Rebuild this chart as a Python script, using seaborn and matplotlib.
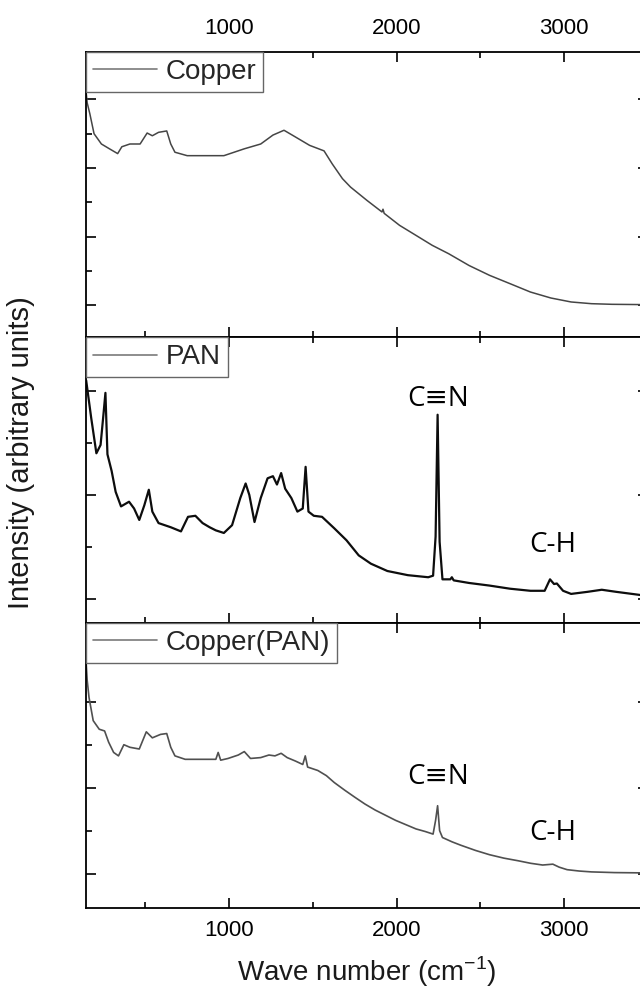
import matplotlib
matplotlib.use("Agg")
import matplotlib.pyplot as plt
from matplotlib.lines import Line2D
from matplotlib.ticker import MultipleLocator
import pandas as pd
import seaborn as sns

# Raman spectra (wave number in cm^-1, intensity in arbitrary units)
copper_x = [146, 152, 168, 193, 237, 285, 334, 359, 407, 468, 510, 541, 578, 627,
            651, 676, 749, 846, 968, 1090, 1188, 1261, 1327, 1383, 1480, 1566,
            1615, 1676, 1724, 1822, 1912, 1918, 1925, 2017, 2115, 2212, 2310,
            2432, 2554, 2676, 2798, 2920, 3041, 3163, 3285, 3500]
copper_y = [3.10, 2.95, 2.79, 2.50, 2.35, 2.28, 2.21, 2.31, 2.35, 2.35, 2.51, 2.47,
            2.52, 2.54, 2.35, 2.23, 2.18, 2.18, 2.18, 2.28, 2.35, 2.48, 2.55, 2.47,
            2.33, 2.25, 2.06, 1.845, 1.723, 1.529, 1.36, 1.40, 1.34, 1.165, 1.019,
            0.874, 0.752, 0.58, 0.437, 0.316, 0.194, 0.107, 0.049, 0.024, 0.015,
            0.01]

pan_x = [146, 176, 207, 232, 249, 261, 273, 298, 322, 354, 402, 432, 463, 493,
         520, 541, 578, 651, 712, 754, 798, 841, 883, 920, 968, 1017, 1066, 1098,
         1120, 1151, 1188, 1229, 1261, 1285, 1310, 1334, 1371, 1407, 1439, 1456,
         1473, 1505, 1554, 1627, 1700, 1773, 1846, 1944, 2066, 2188, 2217, 2232,
         2244, 2256, 2273, 2320, 2329, 2340, 2432, 2554, 2676, 2798, 2883, 2915,
         2939, 2956, 2993, 3041, 3139, 3224, 3310, 3500]
pan_y = [2.10, 1.74, 1.40, 1.48, 1.77, 1.98, 1.39, 1.23, 1.03, 0.89, 0.935, 0.87,
         0.76, 0.90, 1.05, 0.84, 0.73, 0.69, 0.65, 0.79, 0.80, 0.73, 0.69, 0.66,
         0.635, 0.71, 0.97, 1.11, 1.00, 0.74, 0.97, 1.16, 1.18, 1.10, 1.21, 1.06,
         0.97, 0.84, 0.87, 1.27, 0.84, 0.80, 0.79, 0.68, 0.565, 0.42, 0.34, 0.27,
         0.23, 0.21, 0.225, 0.60, 1.77, 0.55, 0.19, 0.19, 0.21, 0.18, 0.155, 0.13,
         0.10, 0.08, 0.08, 0.19, 0.145, 0.15, 0.08, 0.05, 0.07, 0.09, 0.07, 0.03]

cupan_x = [146, 152, 163, 188, 224, 256, 280, 310, 339, 371, 407, 463, 505, 541,
           590, 627, 651, 676, 737, 846, 920, 934, 949, 993, 1054, 1090, 1127,
           1188, 1237, 1273, 1310, 1346, 1395, 1439, 1454, 1468, 1529, 1580, 1627,
           1690, 1749, 1810, 1871, 1932, 1993, 2054, 2115, 2170, 2217, 2232, 2244,
           2256, 2273, 2330, 2383, 2470, 2554, 2640, 2724, 2800, 2871, 2932, 2970,
           3017, 3090, 3163, 3300, 3500]
cupan_y = [2.45, 2.25, 2.05, 1.78, 1.68, 1.66, 1.53, 1.41, 1.37, 1.50, 1.47, 1.45,
           1.65, 1.58, 1.62, 1.63, 1.47, 1.37, 1.33, 1.33, 1.33, 1.41, 1.32, 1.34,
           1.38, 1.42, 1.34, 1.35, 1.38, 1.37, 1.40, 1.35, 1.31, 1.27, 1.37, 1.24,
           1.20, 1.14, 1.06, 0.97, 0.89, 0.81, 0.74, 0.68, 0.62, 0.57, 0.52, 0.49,
           0.46, 0.62, 0.79, 0.50, 0.42, 0.37, 0.33, 0.27, 0.22, 0.18, 0.15, 0.12,
           0.10, 0.11, 0.075, 0.046, 0.03, 0.02, 0.012, 0.008]

sample_names = ["Copper", "PAN", "Copper(PAN)"]
band_labels = ["C\u2261N", "C-H"]
band_positions = [2245, 2930]

sns.set_theme(style="ticks")
plt.rcParams["font.family"] = ["Liberation Sans", "DejaVu Sans"]
plt.rcParams["mathtext.fontset"] = "custom"
plt.rcParams["mathtext.rm"] = "Liberation Sans"

fig, axes = plt.subplots(3, 1, figsize=(6.4, 9.89), dpi=100, sharex=True)
fig.subplots_adjust(left=86 / 640, right=648 / 640, top=1 - 52 / 989,
                    bottom=1 - 908 / 989, hspace=0)

series = [
    (copper_x, copper_y, "#454545", 1.1, (-0.466, 3.69)),
    (pan_x, pan_y, "#0d0d0d", 1.6, (-0.226, 2.513)),
    (cupan_x, cupan_y, "#505050", 1.2, (-0.40, 2.92)),
]

for i, (ax, (xs, ys, color, lw, ylim)) in enumerate(zip(axes, series)):
    df = pd.DataFrame({"wave": xs, "intensity": ys})
    sns.lineplot(data=df, x="wave", y="intensity", ax=ax, color=color,
                 linewidth=lw, estimator=None, legend=False)
    ax.set_xlim(145, 3500)
    ax.set_ylim(*ylim)
    ax.set_xlabel("")
    ax.set_ylabel("")
    ax.xaxis.set_major_locator(MultipleLocator(1000))
    ax.xaxis.set_minor_locator(MultipleLocator(500))
    ax.yaxis.set_major_locator(MultipleLocator(1))
    ax.yaxis.set_minor_locator(MultipleLocator(0.5))
    ax.tick_params(which="both", direction="in", top=True, right=True,
                   bottom=True, left=True, labelleft=False, labelbottom=False,
                   width=1.2, colors="black", labelsize=16, pad=9)
    ax.tick_params(which="major", length=7)
    ax.tick_params(which="minor", length=4)
    for sp in ax.spines.values():
        sp.set_visible(True)
        sp.set_linewidth(1.3)
        sp.set_color("black")

    handle = Line2D([], [], color="#7a7a7a", linewidth=1.2)
    leg = ax.legend(handles=[handle], labels=[sample_names[i]], loc="upper left",
                    bbox_to_anchor=(0, 1), borderaxespad=0, frameon=True,
                    fancybox=False, fontsize=20, handlelength=2.3,
                    handletextpad=0.32, borderpad=0.25, framealpha=1,
                    edgecolor="#666666")
    leg.get_frame().set_linewidth(1.0)

axes[0].tick_params(labeltop=True)
axes[2].tick_params(labelbottom=True)

ann_font = ["Open Sans", "DejaVu Sans"]
ann = dict(ha="center", va="center", fontsize=20, family=ann_font, color="black")
axes[1].text(band_positions[0], 1.92, band_labels[0], **ann)
axes[1].text(band_positions[1], 0.52, band_labels[1], **ann)
axes[2].text(band_positions[0], 1.12, band_labels[0], **ann)
axes[2].text(band_positions[1], 0.47, band_labels[1], **ann)

fig.text(21 / 640, 1 - 453 / 989, "Intensity (arbitrary units)", rotation=90,
         ha="center", va="center", fontsize=21, color="#1a1a1a")
fig.text(367 / 640, 1 - 972 / 989, r"Wave number (cm$^{\mathregular{-1}}$)",
         ha="center", va="center", fontsize=20, color="#1a1a1a")

fig.savefig("out.png", dpi=100)
